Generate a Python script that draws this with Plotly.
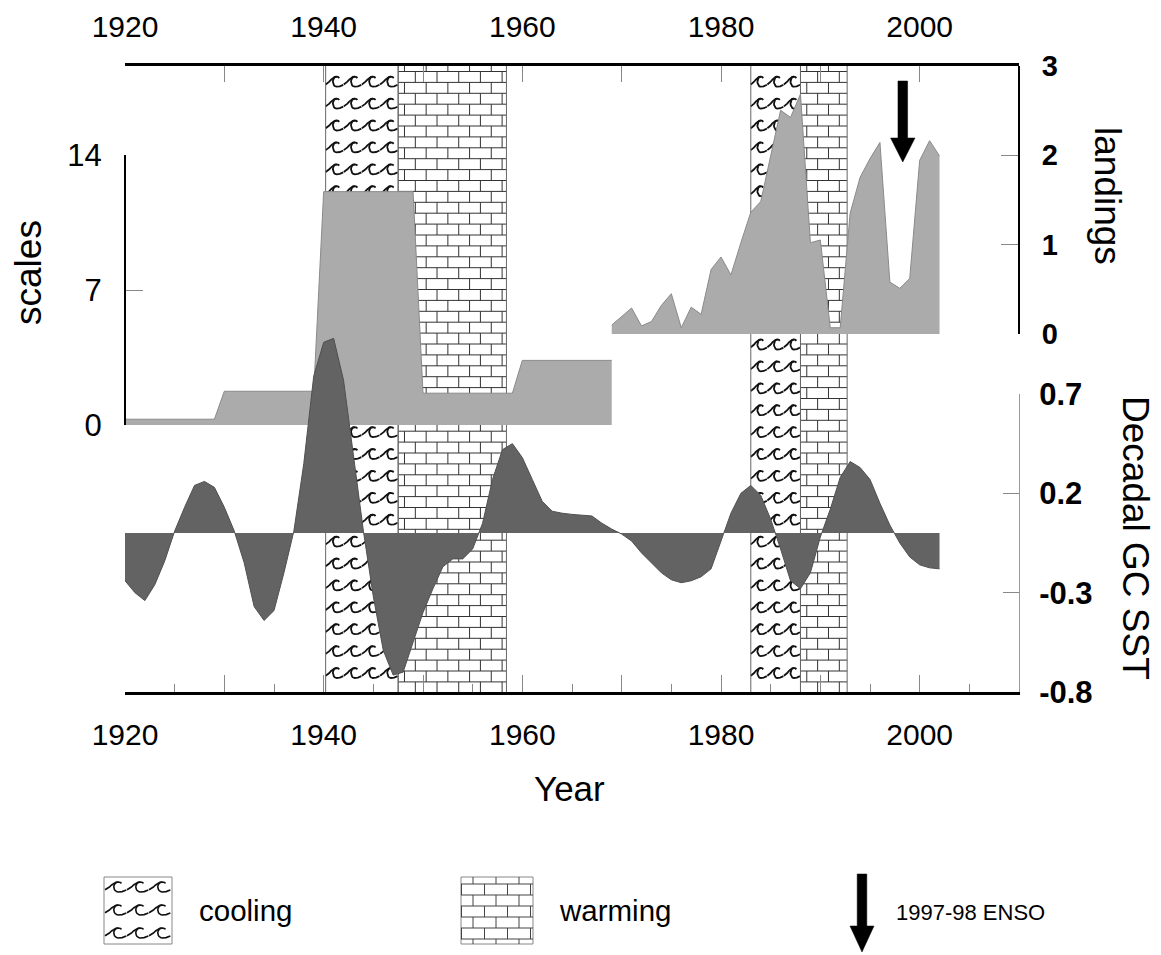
import math
import plotly.graph_objects as go

# ---------------- data ----------------
scales_years = [1920, 1929, 1930, 1939, 1940, 1949, 1950, 1959, 1960, 1969]
scales_values = [0.3, 0.3, 1.75, 1.75, 12.1, 12.1, 1.65, 1.65, 3.35, 3.35]

landings_years = list(range(1969, 2003))
landings_values = [0.10, 0.19, 0.29, 0.09, 0.14, 0.32, 0.45, 0.07, 0.30, 0.22,
                   0.72, 0.86, 0.66, 1.02, 1.36, 1.48, 2.00, 2.50, 2.42, 2.68,
                   1.02, 1.05, 0.07, 0.07, 1.35, 1.75, 1.96, 2.14, 0.58, 0.51,
                   0.62, 1.94, 2.16, 1.99]

sst_years = list(range(1920, 2003))
sst_values = [-0.24, -0.30, -0.34, -0.26, -0.14, 0.01, 0.13, 0.24, 0.26, 0.23,
              0.13, 0.01, -0.15, -0.37, -0.44, -0.39, -0.20, 0.01, 0.35, 0.79,
              0.96, 0.98, 0.77, 0.40, 0.01, -0.32, -0.59, -0.715, -0.70, -0.55,
              -0.40, -0.28, -0.17, -0.13, -0.13, -0.08, 0.05, 0.27, 0.42, 0.45,
              0.38, 0.27, 0.16, 0.11, 0.10, 0.094, 0.09, 0.086, 0.05, 0.02,
              -0.005, -0.04, -0.10, -0.15, -0.20, -0.235, -0.25, -0.24, -0.22, -0.18,
              -0.04, 0.10, 0.20, 0.24, 0.19, 0.07, -0.08, -0.24, -0.28, -0.20,
              -0.02, 0.12, 0.28, 0.36, 0.33, 0.27, 0.15, 0.04, -0.05, -0.12,
              -0.16, -0.175, -0.18]

cooling_periods = [(1940.2, 1947.5), (1983.0, 1988.0)]
warming_periods = [(1947.5, 1958.4), (1988.0, 1992.7)]
enso_year = 1998.3

x_ticks = list(range(1920, 2011, 10))
x_ticklabels = [str(v) if (v - 1920) % 20 == 0 and v <= 2000 else "" for v in x_ticks]
scales_ticks = [0, 7, 14]
landings_ticks = [0, 1, 2, 3]
sst_ticks = [0.7, 0.2, -0.3, -0.8]
sst_ticklabels = ["0.7", "0.2", "-0.3", "-0.8"]

# ---------------- geometry ----------------
W, H = 1161, 955
PL, PR, PT, PB = 125, 1019, 66, 692
X_MIN, X_MAX = 1920, 2010
PPY = (PR - PL) / (X_MAX - X_MIN)
FONT = "Liberation Sans, Arial, sans-serif"


def fx(px):
    return px / W


def fy(py):
    return 1 - py / H


def year_of(px):
    return X_MIN + (px - PL) / PPY


def px_of(year):
    return PL + (year - X_MIN) * PPY


# ---------------- pattern builders (pixel space, y downward) ----------------
def brick_segments(x0p, x1p, top, bottom, row_h=10.9, brick_w=21.7, first=5.5, offs=(6.3, 17.15)):
    segs = []
    lines = []
    y = top + first
    while y < bottom - 0.5:
        lines.append(y)
        y += row_h
    for yl in lines:
        segs.append([(x0p, yl), (x1p, yl)])
    bounds = [top] + lines + [bottom]
    for r in range(len(bounds) - 1):
        ya, yb = bounds[r], bounds[r + 1]
        p = x0p + offs[r % 2]
        while p < x1p - 1:
            segs.append([(p, ya), (p, yb)])
            p += brick_w
    return segs


def wave_glyph(x0, yc, gw, amp):
    tail = [(0.00, -0.55), (0.10, -0.35), (0.20, 0.0), (0.30, 0.40), (0.40, 0.75),
            (0.50, 0.95), (0.60, 1.0), (0.70, 0.92), (0.75, 0.72)]
    a_path = [(x0 + u * gw, yc - v * amp) for u, v in tail]
    cx, rx = x0 + 0.6 * gw, 0.2 * gw
    c_path = []
    for k in range(0, 13):
        a = math.pi / 2 + math.pi * k / 12
        c_path.append((cx + rx * math.cos(a), yc - amp * math.sin(a)))
    c_path += [(x0 + 0.78 * gw, yc + 0.92 * amp), (x0 + 0.97 * gw, yc + 0.62 * amp)]
    return [a_path, c_path]


def wave_paths(x0p, x1p, top, bottom, first=15.7, row_h=21.9, target_w=18.0, amp=5.0):
    paths = []
    n = max(1, round((x1p - x0p) / target_w))
    gw = (x1p - x0p) / n
    yc = top + first
    while yc < bottom - amp:
        for i in range(n):
            paths += wave_glyph(x0p + i * gw, yc, gw, amp)
        yc += row_h
    return paths


def flatten(paths, tx, ty):
    xs, ys = [], []
    for path in paths:
        for (px, py) in path:
            xs.append(tx(px))
            ys.append(ty(py))
        xs.append(None)
        ys.append(None)
    return xs, ys


def arrow_poly(c, top, base, tip, shaft_hw, head_hw):
    return [(c - shaft_hw, top), (c + shaft_hw, top), (c + shaft_hw, base), (c + head_hw, base),
            (c, tip), (c - head_hw, base), (c - shaft_hw, base), (c - shaft_hw, top)]


to_year = year_of
to_pat = lambda py: PB - py
ident = lambda v: v

fig = go.Figure()

# ---- regime-band patterns (drawn first, under the series) ----
brick_all, wave_all, edge_all = [], [], []
for (a, b) in warming_periods:
    x0p, x1p = px_of(a), px_of(b)
    brick_all += brick_segments(x0p, x1p, PT, PB)
    edge_all += [[(x0p, PT), (x0p, PB)], [(x1p, PT), (x1p, PB)]]
for (a, b) in cooling_periods:
    x0p, x1p = px_of(a), px_of(b)
    wave_all += wave_paths(x0p, x1p, PT, PB)
    edge_all += [[(x0p, PT), (x0p, PB)], [(x1p, PT), (x1p, PB)]]

bx, by = flatten(brick_all, to_year, to_pat)
fig.add_trace(go.Scatter(x=bx, y=by, mode="lines", line=dict(color="#333333", width=1),
                         xaxis="x", yaxis="y", hoverinfo="skip", showlegend=False))
wx, wy = flatten(wave_all, to_year, to_pat)
fig.add_trace(go.Scatter(x=wx, y=wy, mode="lines", line=dict(color="#111111", width=1.8),
                         xaxis="x", yaxis="y", hoverinfo="skip", showlegend=False))
ex, ey = flatten(edge_all, to_year, to_pat)
fig.add_trace(go.Scatter(x=ex, y=ey, mode="lines", line=dict(color="#666666", width=1),
                         xaxis="x", yaxis="y", hoverinfo="skip", showlegend=False))

# ENSO arrow
ac = px_of(enso_year)
apoly = arrow_poly(ac, 81, 138, 162, 4.8, 12.2)
fig.add_trace(go.Scatter(x=[to_year(p[0]) for p in apoly], y=[to_pat(p[1]) for p in apoly],
                         mode="lines", fill="toself", fillcolor="black", line=dict(color="black", width=0.5),
                         xaxis="x", yaxis="y", hoverinfo="skip", showlegend=False))

# ---- series ----
fig.add_trace(go.Scatter(x=scales_years, y=scales_values, mode="lines", fill="tozeroy",
                         fillcolor="#ababab", line=dict(color="#8a8a8a", width=1),
                         xaxis="x", yaxis="y2", name="scales", showlegend=False))
fig.add_trace(go.Scatter(x=landings_years, y=landings_values, mode="lines", fill="tozeroy",
                         fillcolor="#ababab", line=dict(color="#8a8a8a", width=1),
                         xaxis="x", yaxis="y3", name="landings", showlegend=False))
fig.add_trace(go.Scatter(x=sst_years, y=sst_values, mode="lines", fill="tozeroy",
                         fillcolor="#636363", line=dict(color="#505050", width=1),
                         xaxis="x", yaxis="y5", name="Decadal GC SST", showlegend=False))

# placeholder (draws nothing) so the bottom year axis and the SST axis get a subplot
fig.add_trace(go.Scatter(x=[None], y=[None], mode="lines", xaxis="x2", yaxis="y4",
                         hoverinfo="skip", showlegend=False))

# ---- legend (pixel axes) ----
cool_box = (104, 877, 172, 944)
warm_box = (461, 877, 533, 944)
box_paths = []
for (l, t, r, b) in (cool_box, warm_box):
    box_paths.append([(l, t), (r, t), (r, b), (l, b), (l, t)])
lbx, lby = flatten(box_paths, ident, ident)
fig.add_trace(go.Scatter(x=lbx, y=lby, mode="lines", line=dict(color="#888888", width=1),
                         xaxis="x3", yaxis="y6", hoverinfo="skip", showlegend=False))
lw = wave_paths(cool_box[0] + 1, cool_box[2] - 1, cool_box[1], cool_box[3], first=10, row_h=23, target_w=22)
lwx, lwy = flatten(lw, ident, ident)
fig.add_trace(go.Scatter(x=lwx, y=lwy, mode="lines", line=dict(color="#111111", width=1.6),
                         xaxis="x3", yaxis="y6", hoverinfo="skip", showlegend=False))
lb = brick_segments(warm_box[0], warm_box[2], warm_box[1], warm_box[3], row_h=11, brick_w=23, first=7,
                    offs=(12, 0.5))
lbrx, lbry = flatten(lb, ident, ident)
fig.add_trace(go.Scatter(x=lbrx, y=lbry, mode="lines", line=dict(color="#444444", width=1),
                         xaxis="x3", yaxis="y6", hoverinfo="skip", showlegend=False))
lapoly = arrow_poly(862, 874, 926, 952, 4.8, 12)
fig.add_trace(go.Scatter(x=[p[0] for p in lapoly], y=[p[1] for p in lapoly], mode="lines",
                         fill="toself", fillcolor="black", line=dict(color="black", width=0.5),
                         xaxis="x3", yaxis="y6", hoverinfo="skip", showlegend=False))

# ---------------- layout ----------------
common = dict(showgrid=False, zeroline=False, fixedrange=True)
tick_gray = "#888888"
xfont = dict(size=30, family=FONT, color="black")

fig.update_layout(
    width=W, height=H, margin=dict(l=0, r=0, t=0, b=0),
    paper_bgcolor="white", plot_bgcolor="rgba(0,0,0,0)", template="none",
    showlegend=False, font=dict(family=FONT, color="black"),
    # top year axis (carries the data subplots)
    xaxis=dict(domain=[fx(PL), fx(PR)], range=[X_MIN, X_MAX], anchor="y", side="top",
               showline=True, linecolor="black", linewidth=3,
               ticks="inside", ticklen=16, tickwidth=1, tickcolor=tick_gray,
               tickmode="array", tickvals=x_ticks, ticktext=x_ticklabels,
               tickfont=xfont, ticklabelstandoff=14, **common),
    # bottom year axis
    xaxis2=dict(domain=[fx(PL), fx(PR)], range=[X_MIN, X_MAX], anchor="y4", side="bottom",
                showline=True, linecolor="black", linewidth=3,
                ticks="inside", ticklen=17, tickwidth=1, tickcolor=tick_gray,
                tickmode="array", tickvals=x_ticks, ticktext=x_ticklabels,
                tickfont=xfont, ticklabelstandoff=14,
                minor=dict(ticks="inside", ticklen=8, tickwidth=1, tickcolor=tick_gray,
                           tickmode="linear", tick0=1925, dtick=10),
                **common),
    xaxis3=dict(domain=[0, 1], range=[0, W], anchor="y6", visible=False, **common),
    yaxis=dict(domain=[fy(PB), fy(PT)], range=[0, PB - PT], anchor="x", visible=False, **common),
    yaxis2=dict(domain=[fy(425), fy(155)], range=[0, 14], anchor="free", position=fx(PL), side="left",
                showline=True, linecolor="black", linewidth=2,
                ticks="inside", ticklen=17, tickwidth=1, tickcolor=tick_gray,
                tickmode="array", tickvals=scales_ticks,
                tickfont=dict(size=31, family=FONT, color="black"), ticklabelstandoff=16,
                **common),
    yaxis3=dict(domain=[fy(334), fy(65.5)], range=[0, 3], anchor="free", position=fx(PR), side="right",
                showline=True, linecolor="black", linewidth=2,
                ticks="inside", ticklen=17, tickwidth=1, tickcolor=tick_gray,
                tickmode="array", tickvals=landings_ticks,
                tickfont=dict(size=29, family=FONT, color="black", weight="bold"), ticklabelstandoff=16,
                **common),
    yaxis4=dict(domain=[fy(PB), fy(394)], range=[-0.8, 0.7], anchor="x2", side="right",
                showline=True, linecolor="#999999", linewidth=1,
                ticks="inside", ticklen=16, tickwidth=1, tickcolor=tick_gray,
                tickmode="array", tickvals=sst_ticks, ticktext=sst_ticklabels,
                tickfont=dict(size=31, family=FONT, color="black", weight="bold"), ticklabelstandoff=13,
                **common),
    yaxis5=dict(domain=[fy(PB), fy(PT)], range=[-0.8, -0.8 + 1.5 * (PB - PT) / (PB - 394)],
                anchor="x", visible=False, **common),
    yaxis6=dict(domain=[0, 1], range=[H, 0], anchor="x3", visible=False, **common),
)

ann = [
    dict(text="scales", x=fx(28), y=fy(273), textangle=-90, size=37),
    dict(text="landings", x=fx(1108), y=fy(196), textangle=90, size=37),
    dict(text="Decadal GC SST", x=fx(1136), y=fy(538), textangle=90, size=37),
    dict(text="Year", x=fx(569), y=fy(788), size=35),
    dict(text="cooling", x=fx(197), y=fy(910), xanchor="left", size=29.5),
    dict(text="warming", x=fx(557), y=fy(910), xanchor="left", size=29.5),
    dict(text="1997-98 ENSO", x=fx(894), y=fy(912), xanchor="left", size=22),
]
for a in ann:
    size = a.pop("size")
    a.setdefault("xanchor", "center")
    fig.add_annotation(xref="paper", yref="paper", showarrow=False, yanchor="middle",
                       font=dict(family=FONT, color="black", size=size), **a)

fig.write_html("out.html", config={"displayModeBar": False},
               post_script="document.body.style.margin='0px';")
